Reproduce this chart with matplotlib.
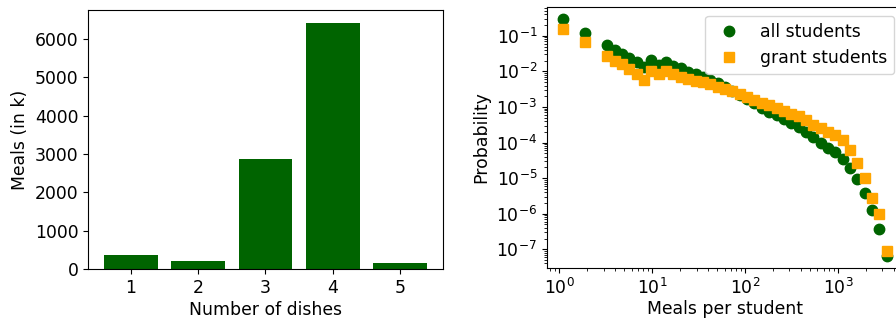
import matplotlib
matplotlib.use("Agg")
import matplotlib.pyplot as plt

# left panel: meals by number of dishes (in thousands)
dishes = [1, 2, 3, 4, 5]
meals_k = [372, 216, 2870, 6415, 164]

# right panel: distribution of meals per student (log-binned)
meals_per_student = [1.1, 1.9, 3.28, 3.94, 4.73, 5.67, 6.81, 8.17, 9.8, 11.8,
                     14.1, 16.9, 20.3, 24.4, 29.3, 35.1, 42.2, 50.6, 60.7, 72.9,
                     87.4, 105, 126, 151, 181, 218, 261, 313, 376, 451,
                     541, 650, 780, 936, 1123, 1347, 1617, 1940, 2328, 2794, 3353]
p_all = [0.295, 0.124, 0.0557, 0.0404, 0.0311, 0.0234, 0.0178, 0.0132, 0.0204, 0.0151,
         0.0178, 0.0138, 0.0123, 0.0098, 0.0085, 0.0069, 0.0056, 0.0046, 0.0036, 0.0028,
         0.0022, 0.00166, 0.00126, 0.00095, 0.00074, 0.00058, 0.00045, 0.00035, 0.00027, 0.0002,
         0.000145, 0.0001, 7.2e-5, 5.5e-5, 3.5e-5, 1.95e-5, 9.3e-6, 3.9e-6, 1.26e-6, 3.8e-7, 6.5e-8]
p_grant = [0.155, 0.066, 0.0275, 0.019, 0.0162, 0.0115, 0.0085, 0.0058, 0.0105, 0.0085,
           0.0105, 0.0085, 0.0071, 0.006, 0.0055, 0.0049, 0.0043, 0.0037, 0.0032, 0.00275,
           0.0023, 0.0019, 0.00158, 0.00132, 0.0011, 0.00091, 0.00076, 0.00065, 0.00055, 0.00042,
           0.00032, 0.00025, 0.0002, 0.000162, 0.000117, 6.0e-5, 2.7e-5, 9.8e-6, 2.7e-6, 9.8e-7, 8.9e-8]

plt.rcParams["font.size"] = 12.4

fig = plt.figure(figsize=(8.96, 3.2), dpi=100)
ax1 = fig.add_axes([0.0982, 0.1584, 0.3962, 0.8094])
ax2 = fig.add_axes([0.6105, 0.1634, 0.3973, 0.8138])

ax1.bar(dishes, meals_k, width=0.8, color="darkgreen")
ax1.set_xlabel("Number of dishes", labelpad=3)
ax1.set_ylabel("Meals (in k)")
ax1.set_xticks(dishes)

ax2.plot(meals_per_student, p_all, "o", color="darkgreen", markersize=7.5,
         label="all students")
ax2.plot(meals_per_student, p_grant, "s", color="orange", markersize=7.5,
         label="grant students")
ax2.set_xscale("log")
ax2.set_yscale("log")
ax2.set_xlabel("Meals per student", labelpad=2)
ax2.set_ylabel("Probability")
ax2.legend(loc="upper right")

fig.savefig("out.png", dpi=100, facecolor="white")
plt.close(fig)
